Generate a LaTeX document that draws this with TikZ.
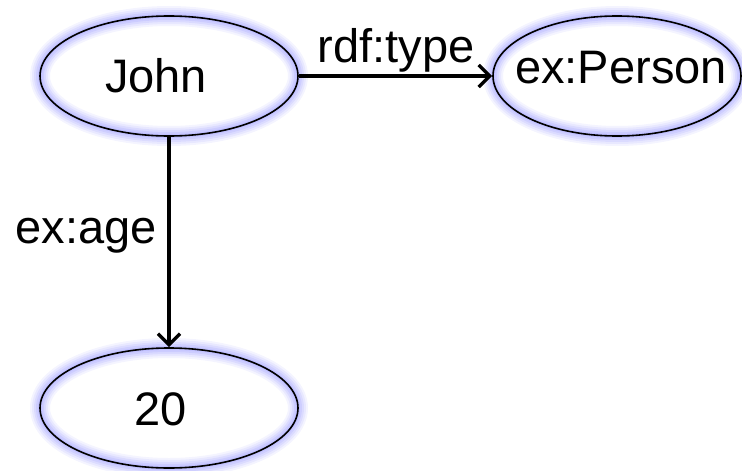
\documentclass[tikz,border=0pt]{standalone}
\usepackage{fontspec}
\setmainfont{Liberation Sans}
\usetikzlibrary{shapes.geometric,arrows.meta}
\definecolor{glowc}{RGB}{165,165,255}
\tikzset{
  resource/.style={ellipse, minimum width=258pt, minimum height=120pt, inner sep=0pt,
    preaction={fill=white},
    preaction={draw=glowc, line width=20pt, opacity=0.12},
    preaction={draw=glowc, line width=16pt, opacity=0.15},
    preaction={draw=glowc, line width=12pt, opacity=0.2},
    preaction={draw=glowc, line width=8pt, opacity=0.25},
    preaction={draw=glowc, line width=4pt, opacity=0.3},
    draw=black, line width=1.6pt},
  txt/.style={anchor=base, inner sep=0pt, font=\fontsize{47}{56}\selectfont},
  relarrow/.style={draw=black, line width=3.5pt, -{Straight Barb[length=11pt,width=22pt]}}
}
\begin{document}
\begin{tikzpicture}[x=1pt,y=-1pt]
  \useasboundingbox (0,0) rectangle (742,471);
  % resources and literal
  \node[resource] (john) at (169,76) {};
  \node[resource, minimum width=248pt] (person) at (617,76) {};
  \node[resource] (age) at (169,408) {};
  \node[txt] (johnt) at (156,92) {John};
  \node[txt] (persont) at (621,83) {ex:Person};
  \node[txt] (aget) at (161,425) {20};
  % properties
  \draw[relarrow] (john.east) -- (person.west);
  \draw[relarrow] (john.south) -- (age.north);
  \node[txt] (typet) at (396,62) {rdf:type};
  \node[txt] (aget2) at (86,243) {ex:age};
\end{tikzpicture}
\end{document}
